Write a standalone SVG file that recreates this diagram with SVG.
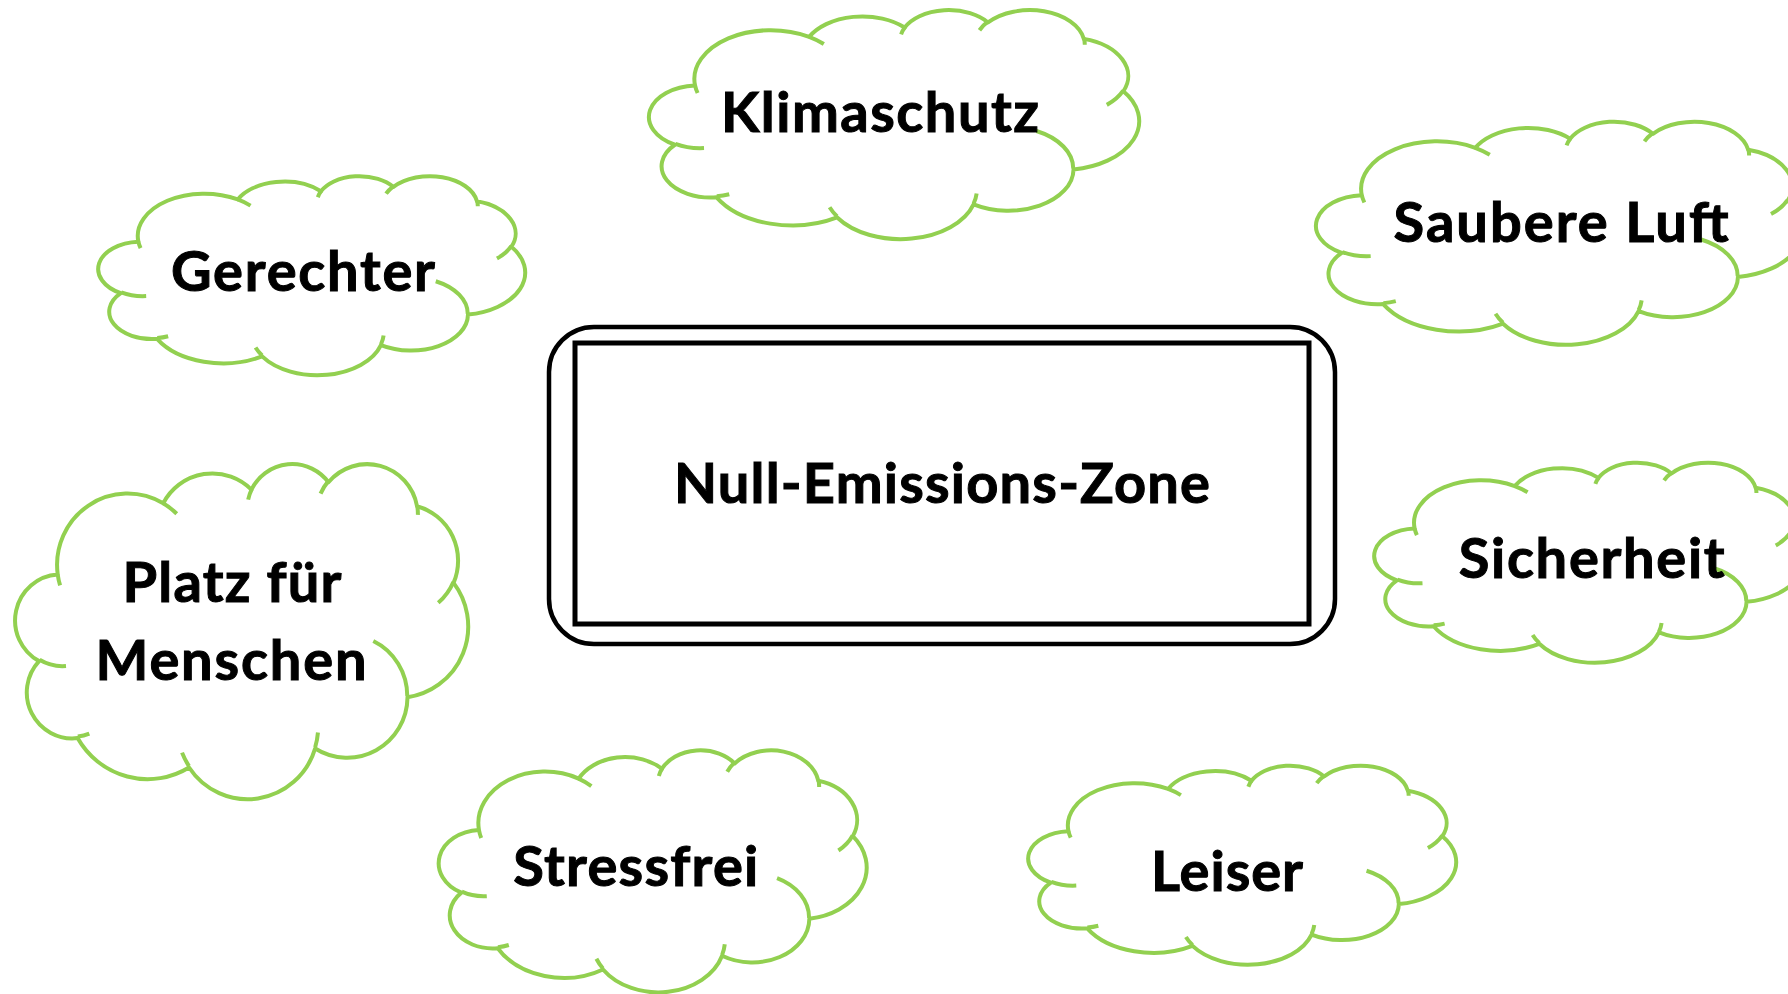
<svg xmlns="http://www.w3.org/2000/svg" xmlns:xlink="http://www.w3.org/1999/xlink" width="1788" height="994" viewBox="0 0 1788 994">
<style>
.cloud{fill:#fff;stroke:#92D050;stroke-width:4;vector-effect:non-scaling-stroke;stroke-linejoin:round}
.tail{fill:none;stroke:#92D050;stroke-width:4;vector-effect:non-scaling-stroke}
.lbl{font-family:Lato,"Open Sans","Liberation Sans",sans-serif;font-weight:bold;font-size:56px;fill:#000;stroke:#000;stroke-width:1;text-anchor:middle}
.box{fill:#fff;stroke:#000}
</style>
<defs>
<path id="cloudOutline" class="cloud" vector-effect="non-scaling-stroke" d="M 39 143.7 A 67.53 91.9 0 0 1 140.05 52.02 A 53.33 72.67 0 0 1 224.56 34.32 A 43.65 59.45 0 0 1 298.33 24.81 A 48.57 65.95 0 0 1 383.18 55.76 A 53.33 72.73 0 0 1 418.18 154.6 A 67.75 92.2 0 0 1 374.04 302.03 A 57.85 78.67 0 0 1 285.56 368.13 A 67.52 92.15 0 0 1 164.81 392.64 A 77.2 105.43 0 0 1 58.05 354.7 A 43.6 59.18 0 0 1 21.14 255.48 A 43.45 59.45 0 0 1 39 143.7 Z"/>
<path id="cloudInner" class="tail" vector-effect="non-scaling-stroke" d="M 46.93 261.77 A 43.45 59.45 0 0 1 21.6 253.8 M 69.28 348.99 A 43.6 59.18 0 0 1 58.2 352.81 M 164.78 390.9 A 67.52 92.15 0 0 1 158.1 373.5 M 288.27 347.51 A 67.52 92.15 0 0 1 285.6 366.6 M 341.29 229.54 A 57.85 78.67 0 0 1 373.8 300.9 M 417.98 153.54 A 53.33 72.73 0 0 1 403.5 180.3 M 383.24 54.26 A 48.57 65.95 0 0 1 384 66.9 M 290.78 39.52 A 48.57 65.95 0 0 1 298.2 23.4 M 221.41 47.2 A 43.65 59.45 0 0 1 225 33.3 M 140 51.92 A 67.53 91.9 0 0 1 153 65.41 M 41.27 157.89 A 67.53 91.9 0 0 1 39 143.7"/>
</defs>
<rect width="1788" height="994" fill="#fff"/>
<g id="connectors"></g>
<g id="center">
<rect class="box" x="549" y="327" width="786" height="317" rx="45" ry="45" stroke-width="4.5"/>
<rect class="box" x="575" y="343" width="734" height="281" stroke-width="5"/>
<text class="lbl" x="942" y="503" textLength="536" lengthAdjust="spacing">Null-Emissions-Zone</text>
</g>
<g id="klimaschutz">
<g transform="translate(651,9.3) scale(1.1296,0.5301)"><use href="#cloudOutline"/><use href="#cloudInner"/></g>
<text class="lbl" x="880" y="131.7" textLength="318" lengthAdjust="spacing">Klimaschutz</text>
</g>
<g id="saubere-luft">
<g transform="translate(1318,121) scale(1.1227,0.5162)"><use href="#cloudOutline"/><use href="#cloudInner"/></g>
<text class="lbl" x="1561" y="241.7" textLength="335" lengthAdjust="spacing">Saubere Luft</text>
</g>
<g id="gerechter">
<g transform="translate(100,175.5) scale(0.9838,0.4606)"><use href="#cloudOutline"/><use href="#cloudInner"/></g>
<text class="lbl" x="303" y="291" textLength="264" lengthAdjust="spacing">Gerechter</text>
</g>
<g id="sicherheit">
<g transform="translate(1376,462) scale(0.9907,0.4630)"><use href="#cloudOutline"/><use href="#cloudInner"/></g>
<text class="lbl" x="1591.7" y="577.7" textLength="266" lengthAdjust="spacing">Sicherheit</text>
</g>
<g id="platz-fuer-menschen">
<g transform="translate(17,463) scale(1.0440,0.7755)"><use href="#cloudOutline"/><use href="#cloudInner"/></g>
<text class="lbl" x="232" y="602" textLength="219" lengthAdjust="spacing">Platz für</text>
<text class="lbl" x="231" y="679.5" textLength="271" lengthAdjust="spacing">Menschen</text>
</g>
<g id="stressfrei">
<g transform="translate(440.5,749.5) scale(0.9861,0.5602)"><use href="#cloudOutline"/><use href="#cloudInner"/></g>
<text class="lbl" x="635.8" y="886" textLength="245" lengthAdjust="spacing">Stressfrei</text>
</g>
<g id="leiser">
<g transform="translate(1030,765) scale(0.9861,0.4606)"><use href="#cloudOutline"/><use href="#cloudInner"/></g>
<text class="lbl" x="1227" y="891" textLength="152" lengthAdjust="spacing">Leiser</text>
</g>
</svg>
